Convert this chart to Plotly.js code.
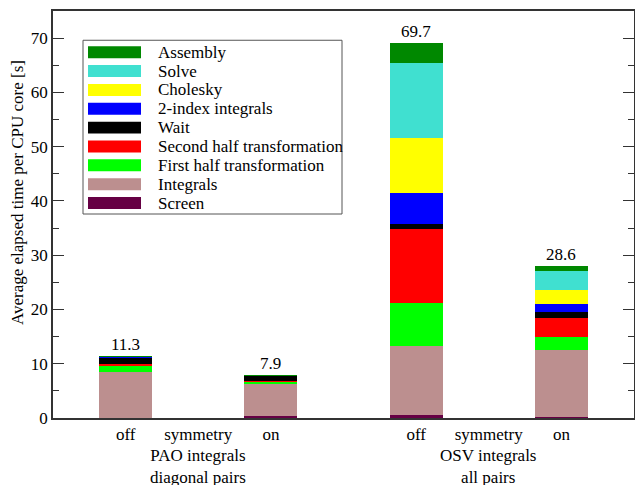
<!DOCTYPE html>
<html>
<head>
<meta charset="utf-8">
<script src="https://cdn.plot.ly/plotly-3.0.1.min.js"></script>
<style>
html,body{margin:0;padding:0;background:#fff;}
</style>
</head>
<body>
<div id="chart" style="width:635px;height:485px;position:relative;"></div>
<script>
// Bar positions and tick labels
const barX = [1, 3, 5, 7];
const tickVals = [1, 2, 3, 5, 6, 7];
const tickText = ["off", "symmetry", "on", "off", "symmetry", "on"];
const groupX = [2, 6];
const groupLabels = ["PAO integrals<br>diagonal pairs", "OSV integrals<br>all pairs"];
const totalLabels = ["11.3", "7.9", "69.7", "28.6"];

// Series (bottom to top of stack)
const screen     = [0.05, 0.3, 0.5, 0.2];
const integrals  = [8.45, 6.1, 12.85, 12.35];
const firstHalf  = [1.1, 0.35, 7.9, 2.4];
const secondHalf = [0.3, 0.05, 13.55, 3.5];
const wait       = [1.2, 0.95, 0.95, 1.1];
const twoIndex   = [0.2, 0.05, 5.65, 1.45];
const cholesky   = [0.02, 0.02, 10.15, 2.6];
const solve      = [0.02, 0.02, 13.8, 3.5];
const assembly   = [0.02, 0.02, 3.7, 0.9];

const seriesNames  = ["Screen", "Integrals", "First half transformation", "Second half transformation", "Wait", "2-index integrals", "Cholesky", "Solve", "Assembly"];
const seriesValues = [screen, integrals, firstHalf, secondHalf, wait, twoIndex, cholesky, solve, assembly];
const seriesColors = ["#660044", "#bc8f8f", "#00ff00", "#ff0000", "#000000", "#0000ff", "#ffff00", "#40e0d0", "#008800"];

const FONT = "Liberation Serif";
const tf = () => ({family: FONT, size: 17, color: "#000"});

const traces = seriesNames.map((n, i) => ({
  type: "bar",
  name: n,
  x: barX,
  y: seriesValues[i],
  width: 0.73,
  marker: {color: seriesColors[i], line: {width: 0}},
  showlegend: false,
  hoverinfo: "name+y"
}));

const totals = barX.map((_, j) => seriesValues.reduce((s, arr) => s + arr[j], 0));

// pixel helpers for paper-positioned decorations (plot area: x 53..634, y 10.7..418.3)
const PL = 53, PR = 634, PT = 10.7, PB = 418.3;
const px = v => (v - PL) / (PR - PL);
const py = v => (PB - v) / (PB - PT);

const shapes = [];
const annotations = [];

// Custom legend (top entry first)
shapes.push({type: "rect", xref: "paper", yref: "paper", x0: px(83), x1: px(342), y0: py(214), y1: py(40),
  line: {color: "#555", width: 1}, fillcolor: "#fff", layer: "above"});
const legendOrder = seriesNames.map((_, i) => i).reverse();
legendOrder.forEach((si, k) => {
  const cy = 52 + k * 18.875;
  shapes.push({type: "rect", xref: "paper", yref: "paper", x0: px(88), x1: px(141), y0: py(cy + 6), y1: py(cy - 6),
    line: {width: 0}, fillcolor: seriesColors[si], layer: "above"});
  annotations.push({xref: "paper", yref: "paper", x: px(156), y: py(cy), xanchor: "left", yanchor: "middle",
    text: seriesNames[si], showarrow: false, font: tf()});
});

// Totals above bars
barX.forEach((x, j) => {
  annotations.push({x: x, y: totals[j], xref: "x", yref: "y", yanchor: "bottom", yshift: 0,
    text: totalLabels[j], showarrow: false, font: tf()});
});

// Group labels
groupX.forEach((x, j) => {
  annotations.push({x: x, xref: "x", yref: "paper", y: py(444), yanchor: "top",
    text: groupLabels[j], showarrow: false, font: tf()});
});

// Y axis title
annotations.push({xref: "paper", yref: "paper", x: px(17), y: py(193), xanchor: "center", yanchor: "middle", textangle: -90,
  text: "Average elapsed time per CPU core [s]", showarrow: false, font: tf()});

const layout = {
  width: 635, height: 485,
  margin: {l: 53, r: 1, t: 10.7, b: 66.7},
  barmode: "stack",
  paper_bgcolor: "#fff", plot_bgcolor: "#fff",
  font: tf(),
  xaxis: {
    range: [0, 8], tickvals: tickVals, ticktext: tickText, ticks: "",
    showline: true, linecolor: "#333", linewidth: 1.5, mirror: true,
    showgrid: false, zeroline: false, tickfont: tf()
  },
  yaxis: {
    range: [0, 75], dtick: 10, tick0: 0, ticks: "inside", ticklen: 11, tickwidth: 1, tickcolor: "#333",
    minor: {dtick: 5, ticks: "inside", ticklen: 6, tickcolor: "#333", tickwidth: 1, showgrid: false},
    showline: true, linecolor: "#333", linewidth: 1.5, mirror: "ticks",
    showgrid: false, zeroline: false, tickfont: tf()
  },
  shapes: shapes,
  annotations: annotations,
  showlegend: false
};

Plotly.newPlot("chart", traces, layout, {displayModeBar: false});
</script>
</body>
</html>
